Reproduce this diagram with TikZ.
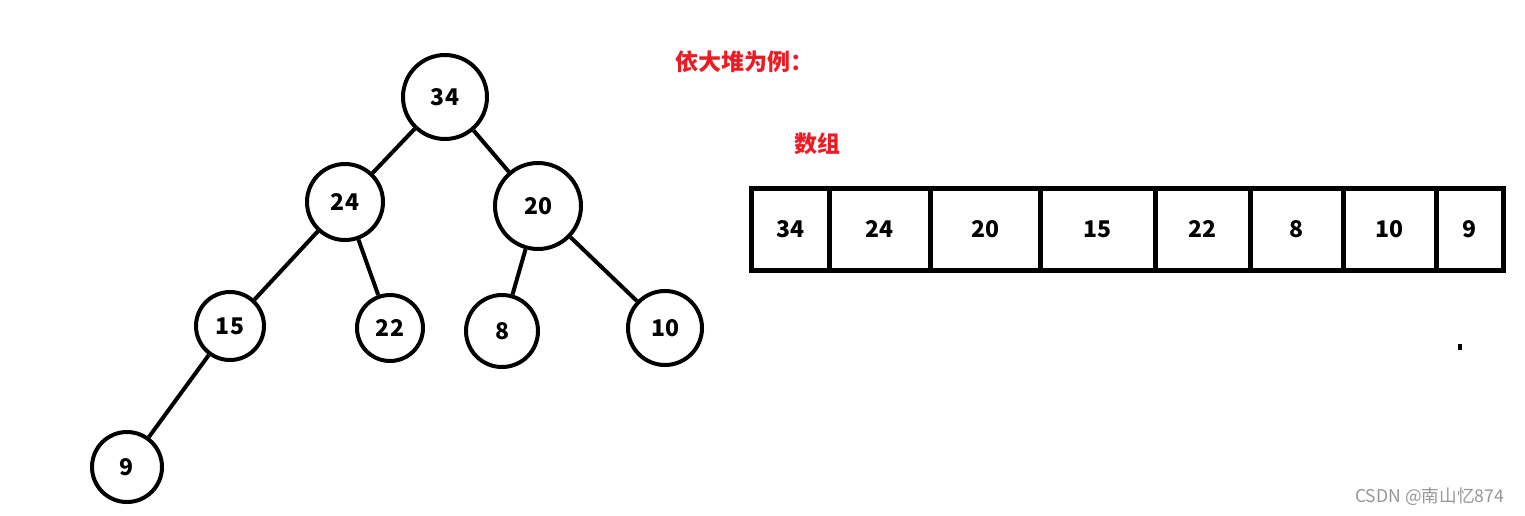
\documentclass[tikz,border=0pt]{standalone}
\usepackage{fontspec}
\setmainfont{Noto Sans CJK SC}
\newfontfamily\cjk{Noto Sans CJK SC}
\usetikzlibrary{positioning}
\definecolor{notered}{RGB}{237,28,36}
\definecolor{markgray}{RGB}{150,150,150}

\begin{document}
\begin{tikzpicture}[x=0.5pt, y=-0.5pt,
    every node/.style={font=\fontsize{11.5}{13}\selectfont\bfseries},
    vertex/.style={circle, draw, line width=2pt, inner sep=0pt},
    cell/.style={rectangle, draw, line width=2.5pt, outer sep=0pt, minimum height=41pt, inner sep=0pt},
    link/.style={line width=2pt}]
  \useasboundingbox (0,0) rectangle (1525,515);

  % heap as a tree
  \node[vertex, minimum size=42pt] (n34) at (445,97) {34};
  \node[vertex, minimum size=38pt] (n24) at (345,202) {24};
  \node[vertex, minimum size=43pt] (n20) at (538,206) {20};
  \node[vertex, minimum size=34pt] (n15) at (230,326) {15};
  \node[vertex, minimum size=33pt] (n22) at (390,328) {22};
  \node[vertex, minimum size=36pt] (n8)  at (502,331) {8};
  \node[vertex, minimum size=37pt] (n10) at (665,328) {10};
  \node[vertex, minimum size=35pt] (n9)  at (127,467) {9};

  \draw[link] (n34) -- (n24);
  \draw[link] (n34) -- (n20);
  \draw[link] (n24) -- (n15);
  \draw[link] (n24) -- (n22);
  \draw[link] (n20) -- (n8);
  \draw[link] (n20) -- (n10);
  \draw[link] (n15) -- (n9);

  % titles
  \node[text=notered, anchor=west, font=\cjk\fontsize{11.5}{13}\selectfont\bfseries] (title) at (668,62) {依大堆为例：};
  \node[text=notered, font=\cjk\fontsize{11.5}{13}\selectfont\bfseries] (arr) at (817,144) {数组};

  % heap as an array
  \node[cell, minimum width=39pt] (c1) at (790,229) {34};
  \node[cell, minimum width=50.5pt, right=0pt of c1] (c2) {24};
  \node[cell, minimum width=55pt, right=0pt of c2] (c3) {20};
  \node[cell, minimum width=57.5pt, right=0pt of c3] (c4) {15};
  \node[cell, minimum width=47.5pt, right=0pt of c4] (c5) {22};
  \node[cell, minimum width=46.5pt, right=0pt of c5] (c6) {8};
  \node[cell, minimum width=46.5pt, right=0pt of c6] (c7) {10};
  \node[cell, minimum width=33.5pt, right=0pt of c7] (c8) {9};

  \fill (1458,344) rectangle (1462,350);

  \node[text=markgray, anchor=east, font=\cjk\fontsize{8.8}{10}\selectfont] (mark) at (1511,497) {CSDN @南山忆874};
\end{tikzpicture}
\end{document}
